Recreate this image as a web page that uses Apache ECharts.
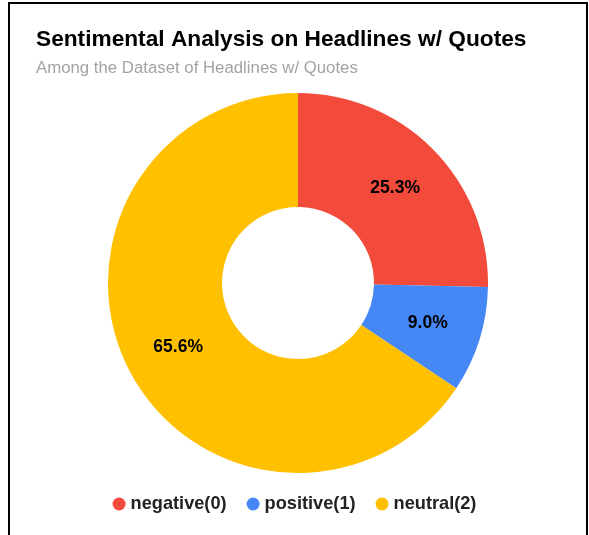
<!DOCTYPE html>
<html>
<head>
<meta charset="utf-8">
<script src="https://cdn.jsdelivr.net/npm/echarts@6/dist/echarts.min.js"></script>
<style>
html,body{margin:0;padding:0;background:#fff;}
#frame{position:absolute;left:8px;top:2px;width:576px;height:540px;border:2px solid #000;border-bottom:none;box-sizing:content-box;}
#chart{position:absolute;left:0;top:0;width:589px;height:535px;}
</style>
</head>
<body>
<div id="frame"></div>
<div id="chart"></div>
<script>
var titleText = 'Sentimental Analysis on Headlines w/ Quotes';
var subtitleText = 'Among the Dataset of Headlines w/ Quotes';
var categories = ['negative(0)', 'positive(1)', 'neutral(2)'];
var values = [25.3, 9.0, 65.6];
var colors = ['#F24A3B', '#4487F5', '#FFC000'];

var chart = echarts.init(document.getElementById('chart'));
chart.setOption({
  animation: false,
  color: colors,
  title: {
    text: titleText,
    subtext: subtitleText,
    left: 31,
    top: 23,
    itemGap: 9,
    textStyle: {fontFamily: 'Liberation Sans, Arial', fontWeight: 'bold', fontSize: 22.7, color: '#000'},
    subtextStyle: {fontFamily: 'Liberation Sans, Arial', fontSize: 16.8, color: '#a3a3a3'}
  },
  legend: {
    bottom: 17,
    left: 'center',
    icon: 'circle',
    itemWidth: 13,
    itemHeight: 13,
    itemGap: 20,
    textStyle: {fontFamily: 'Liberation Sans, Arial', fontWeight: 'bold', fontSize: 18.2, color: '#222'},
    data: categories
  },
  series: [{
    type: 'pie',
    center: [298, 283],
    radius: [76, 190],
    startAngle: 90,
    clockwise: true,
    avoidLabelOverlap: false,
    label: {
      show: true,
      position: 'inside',
      formatter: function (p) { return p.value.toFixed(1) + '%'; },
      fontFamily: 'Liberation Sans, Arial',
      fontWeight: 'bold',
      fontSize: 17.5,
      color: '#000'
    },
    labelLine: {show: false},
    itemStyle: {borderWidth: 0},
    emphasis: {disabled: true},
    data: categories.map(function (c, i) { return {name: c, value: values[i]}; })
  }]
});
</script>
</body>
</html>
